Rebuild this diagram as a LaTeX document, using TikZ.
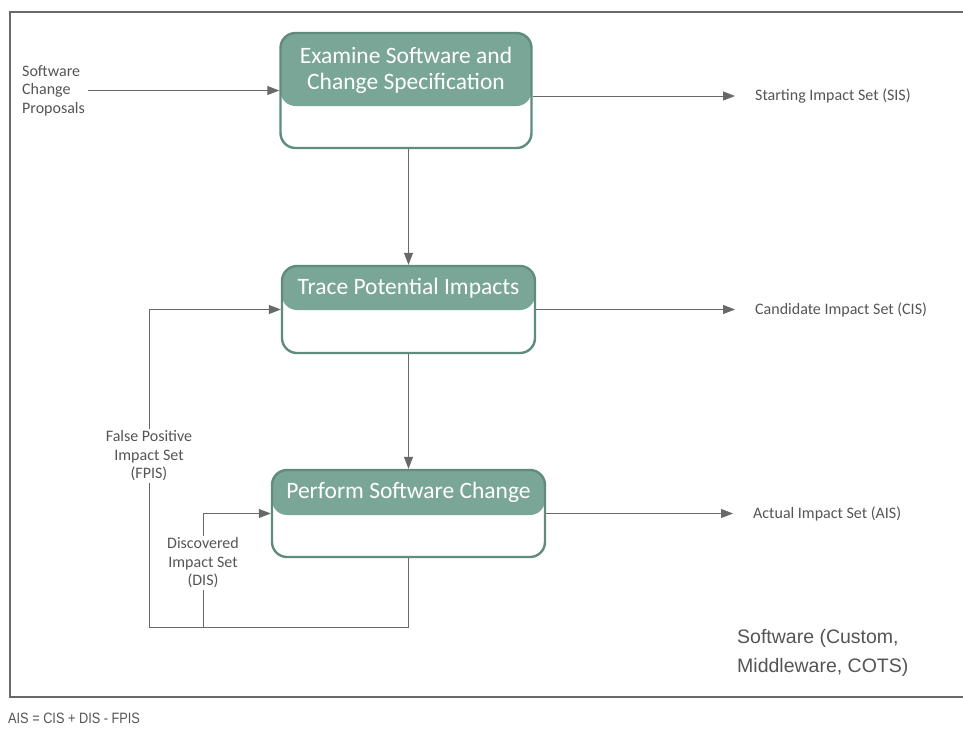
\documentclass[tikz,border=0pt]{standalone}
\usepackage{fontspec}
\setmainfont{Carlito}
\newfontfamily\notefont{Liberation Sans}
\newfontfamily\narrowfont[FakeStretch=0.85]{Liberation Sans}
\usetikzlibrary{arrows.meta,calc}

\definecolor{headfill}{RGB}{122,166,151}
\definecolor{boxedge}{RGB}{96,140,124}
\definecolor{linegray}{RGB}{105,105,105}
\definecolor{textgray}{RGB}{85,85,85}

\tikzset{
  procbox/.style 2 args={draw=boxedge, line width=2.4pt, rounded corners=15pt,
    fill=white, inner sep=0pt, minimum width=#1,
    path picture={\fill[headfill] (path picture bounding box.north west)
      rectangle ([yshift=-#2]path picture bounding box.north east);}},
  headtext/.style={text=white, align=center, inner sep=0pt,
    font=\fontsize{23.5}{26}\selectfont},
  lbl/.style={text=textgray, inner sep=0pt, font=\fontsize{16}{18.5}\selectfont},
  lblbg/.style={lbl, fill=white, inner sep=1.5pt},
  arr/.style={draw=linegray, line width=1pt, -{Triangle[length=12pt,width=9pt]}},
  conn/.style={draw=linegray, line width=1pt},
}

\begin{document}
\begin{tikzpicture}[x=1pt,y=-1pt]
  \useasboundingbox (0,0) rectangle (963,729);
  \fill[white] (0,0) rectangle (963,729);

  % system boundary
  \draw[draw=linegray, line width=1.2pt] (10,12) rectangle (975,697);

  % process boxes
  \node[procbox={251pt}{73pt}, minimum height=115pt] (b1) at (406,90.5) {};
  \node[procbox={253pt}{44pt}, minimum height=87pt] (b2) at (408.5,309.5) {};
  \node[procbox={273pt}{45pt}, minimum height=87pt] (b3) at (408.5,513.5) {};

  \node[headtext] (h1) at (406,70) {Examine Software and\\Change Specification};
  \node[headtext] (h2) at (408.5,288) {Trace Potential Impacts};
  \node[headtext] (h3) at (408.5,492) {Perform Software Change};

  % inputs and outputs
  \node[lbl, anchor=west, align=left] (scp) at (22,90.5) {Software\\Change\\Proposals};
  \node[lbl, anchor=west] (sis) at (755,96) {Starting Impact Set (SIS)};
  \node[lbl, anchor=west] (cis) at (755,309.5) {Candidate Impact Set (CIS)};
  \node[lbl, anchor=west] (ais) at (753,513.5) {Actual Impact Set (AIS)};

  \draw[arr] ([xshift=3pt]scp.east |- b1.west) -- (b1.west);
  \draw[arr] (b1.east |- sis.west) -- ([xshift=-20pt]sis.west);
  \draw[arr] (b2.east) -- ([xshift=-20pt]cis.west);
  \draw[arr] (b3.east) -- ([xshift=-20pt]ais.west);

  \draw[arr] (b2.north |- b1.south) -- (b2.north);
  \draw[arr] (b2.south) -- (b3.north);

  % feedback loops
  \coordinate (lb) at (149,627);
  \coordinate (ld) at (203,627);
  \draw[conn] (b3.south) |- (lb);
  \draw[arr] (lb) |- (b2.west);
  \draw[arr] (ld) |- (b3.west);

  \node[lblbg, align=center] (fpis) at (149,456) {False Positive\\Impact Set\\(FPIS)};
  \node[lblbg, align=center] (dis) at (203,563) {Discovered\\Impact Set\\(DIS)};

  % notes
  \node[text=textgray, anchor=west, align=left, inner sep=0pt,
        font=\notefont\fontsize{19.5}{29}\selectfont] (sw) at (737,652.5)
        {Software (Custom,\\Middleware, COTS)};
  \node[text=textgray, anchor=west, inner sep=0pt,
        font=\narrowfont\fontsize{15}{17}\selectfont] (eq) at (8,718)
        {AIS = CIS + DIS - FPIS};
\end{tikzpicture}
\end{document}
